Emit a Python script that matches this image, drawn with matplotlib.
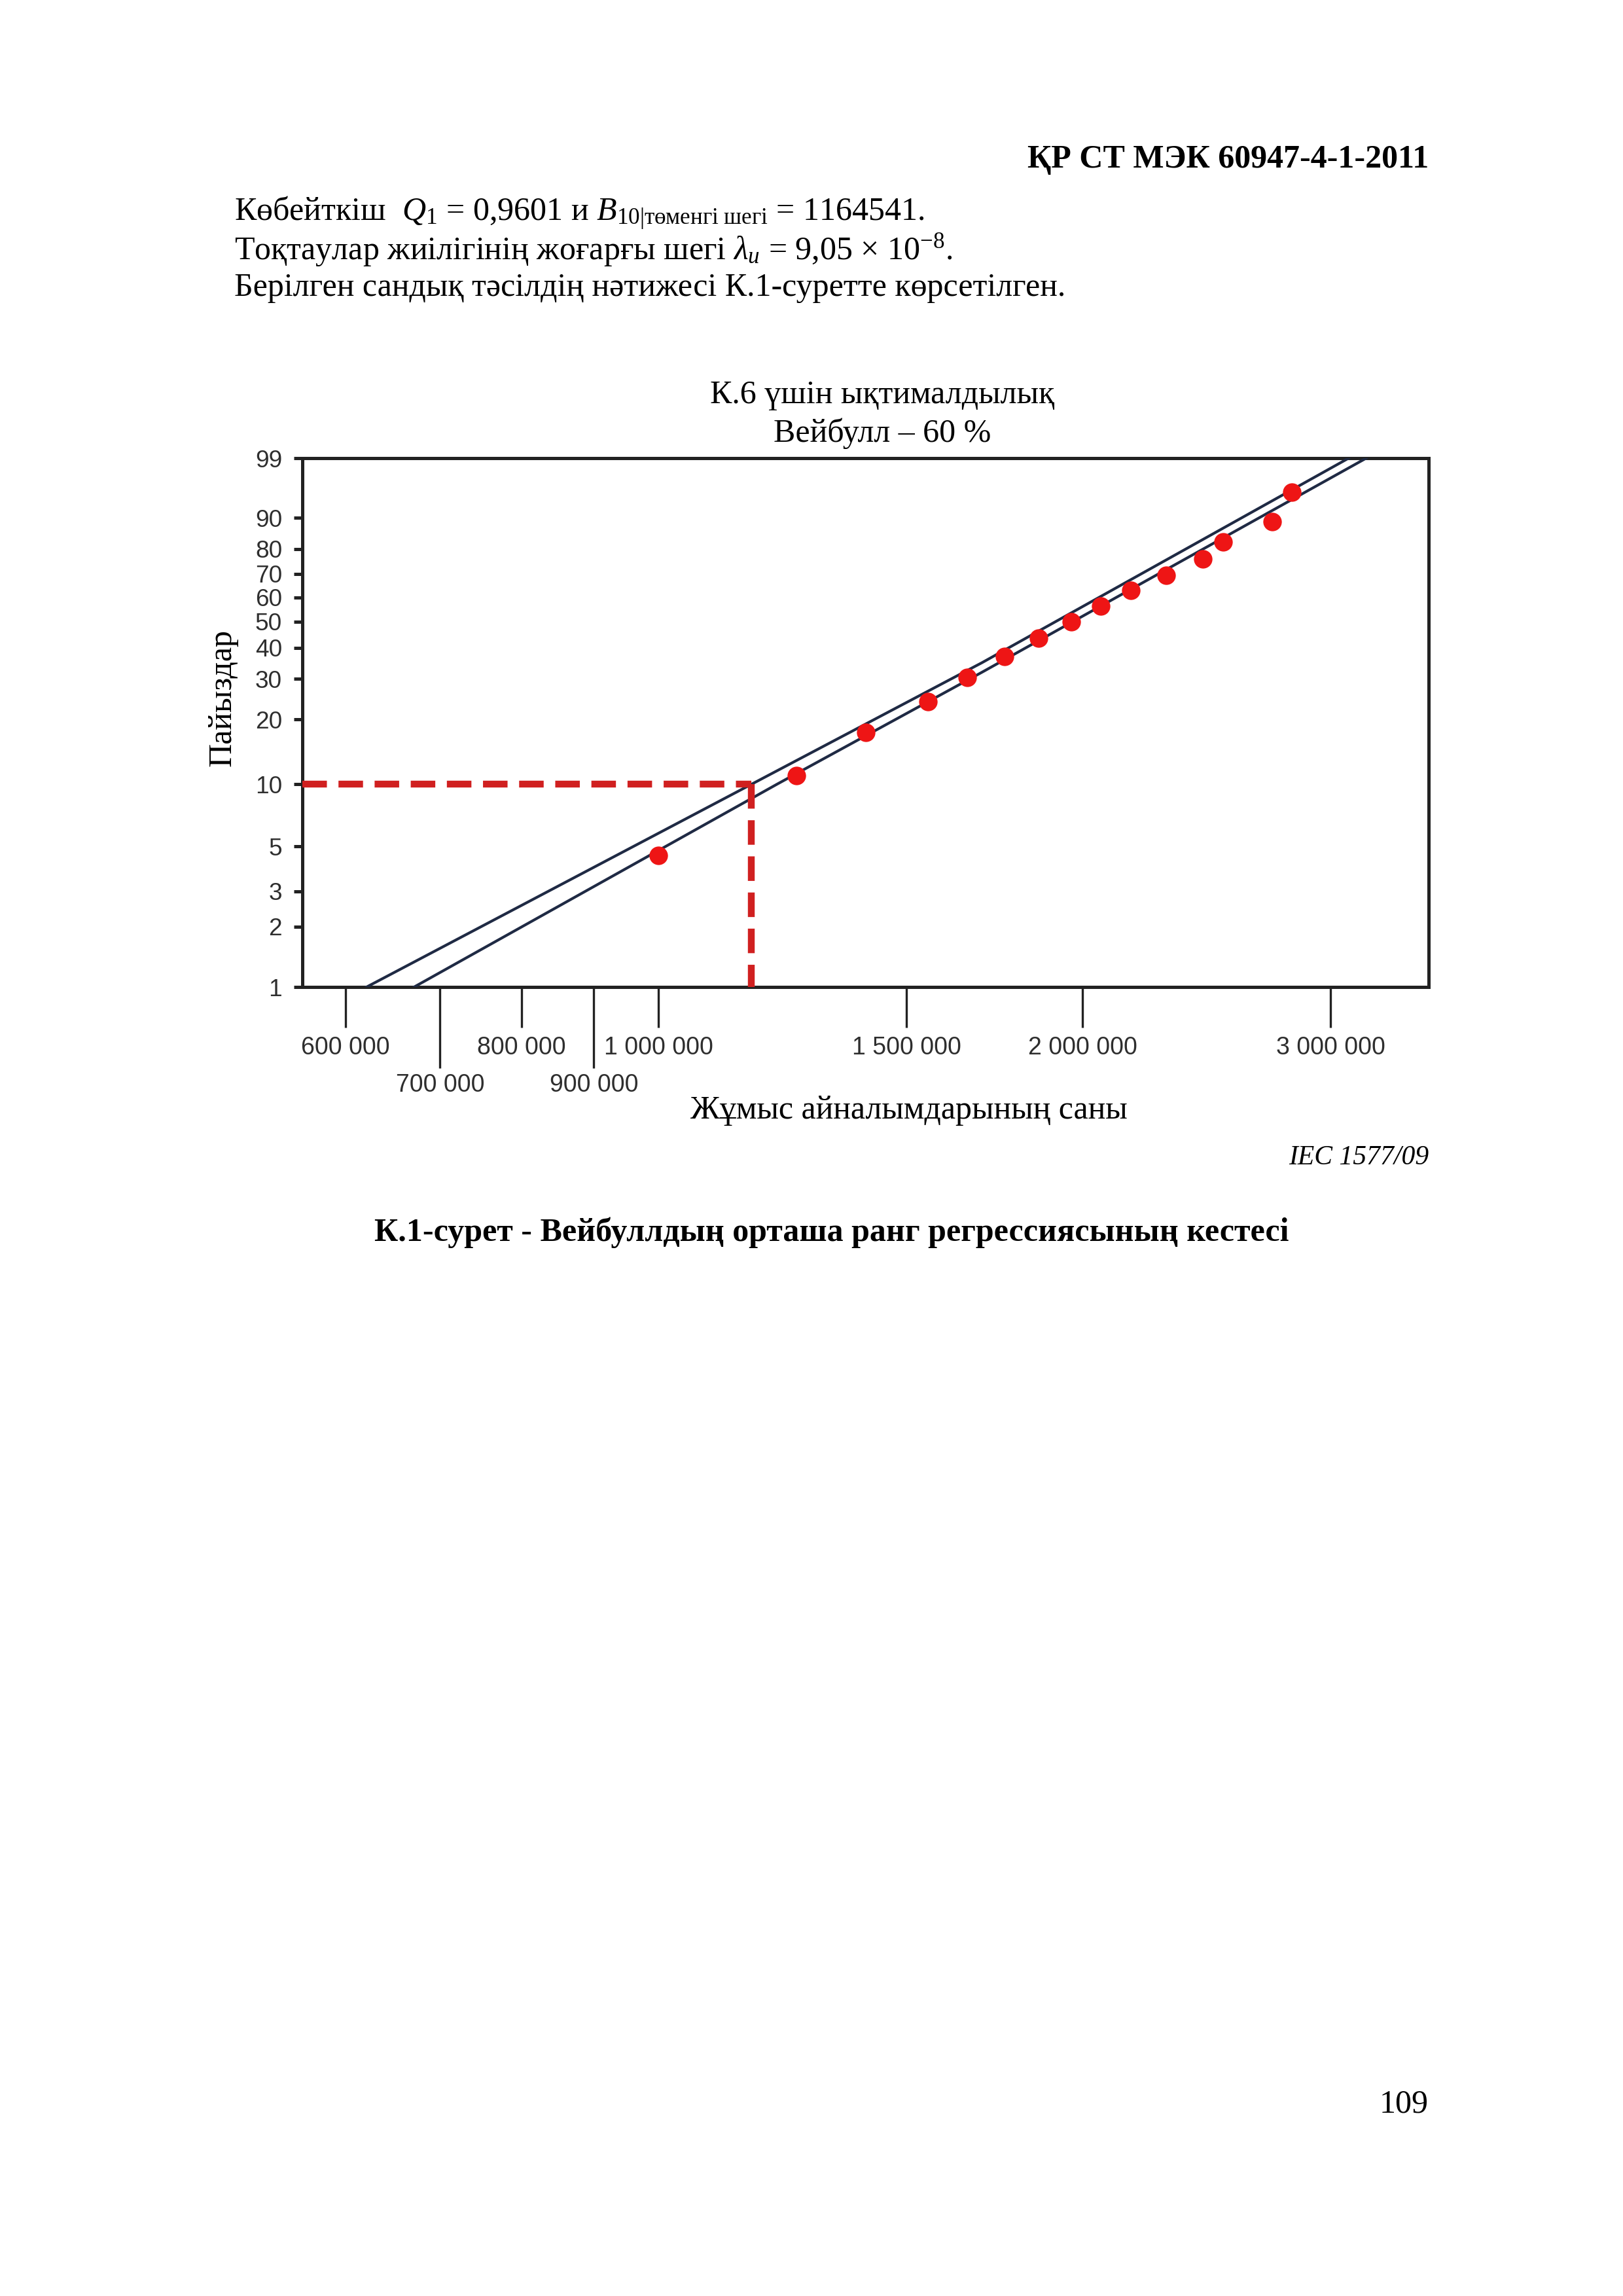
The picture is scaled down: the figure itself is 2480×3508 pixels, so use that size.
import numpy as np
import matplotlib
matplotlib.use("Agg")
import matplotlib.pyplot as plt
from matplotlib.ticker import FixedLocator, FixedFormatter, NullLocator

plt.rcParams['font.family'] = ['Liberation Serif', 'DejaVu Serif']
plt.rcParams['mathtext.fontset'] = 'custom'
plt.rcParams['mathtext.rm'] = 'Liberation Serif'
plt.rcParams['mathtext.it'] = 'Liberation Serif:italic'
plt.rcParams['mathtext.bf'] = 'Liberation Serif:bold'

# %% data
cycles = [1000000, 1253000, 1404000, 1553000, 1657000, 1760000, 1862000,
          1964000, 2061000, 2165000, 2292000, 2433000, 2515000, 2725000, 2815000]
percent = [4.5, 11.0, 17.5, 24.0, 30.5, 37.0, 43.5, 50.0, 56.5, 63.0,
           69.5, 76.0, 82.5, 89.0, 95.5]

upper_cycles = [620900, 1164541, 1697000, 3089000]
upper_pct = [1, 10, 35, 99]
lower_cycles = [671000, 1214000, 1697000, 3179000]
lower_pct = [1, 10, 32, 99]

b10 = 1164541
b10_pct = 10

x_major = [600000, 800000, 1000000, 1500000, 2000000, 3000000]
x_major_lbl = ["600 000", "800 000", "1 000 000", "1 500 000", "2 000 000", "3 000 000"]
x_minor = [700000, 900000]
x_minor_lbl = ["700 000", "900 000"]
y_ticks = [1, 2, 3, 5, 10, 20, 30, 40, 50, 60, 70, 80, 90, 99]
xmin, xmax = 559000, 3520000


def wb_fwd(p):
    p = np.clip(np.asarray(p, dtype=float), 1e-6, 100 - 1e-6)
    return np.log(-np.log(1 - p / 100.0))


def wb_inv(w):
    return 100.0 * (1 - np.exp(-np.exp(np.asarray(w, dtype=float))))


# %% figure
W, H = 2480, 3508
fig = plt.figure(figsize=(W / 300, H / 300), dpi=300)


def px(x, y):
    return x / W, 1 - y / H


ax = fig.add_axes([462 / W, 1 - 1508 / H, (2183 - 462) / W, (1508 - 700) / H])
ax.set_xscale('log')
ax.set_yscale('function', functions=(wb_fwd, wb_inv))
ax.set_xlim(xmin, xmax)
ax.set_ylim(1, 99)

ax.plot(upper_cycles, upper_pct, color='#1f2a44', lw=1.0, zorder=3)
ax.plot(lower_cycles, lower_pct, color='#1f2a44', lw=1.0, zorder=3)

ax.plot([xmin, b10], [b10_pct, b10_pct], color='#d02020', lw=2.5,
        dashes=(3.6, 1.7), dash_capstyle='butt', clip_on=False, zorder=4)
ax.plot([b10, b10], [b10_pct, 1], color='#d02020', lw=2.5,
        dashes=(3.6, 1.7), dash_capstyle='butt', clip_on=False, zorder=4)

ax.plot(cycles, percent, 'o', color='#ee1515', ms=6.8, mew=0, zorder=5)

for s in ax.spines.values():
    s.set_linewidth(1.2)
    s.set_color('#222222')

ax.xaxis.set_major_locator(FixedLocator(x_major))
ax.xaxis.set_major_formatter(FixedFormatter(x_major_lbl))
ax.xaxis.set_minor_locator(FixedLocator(x_minor))
ax.xaxis.set_minor_formatter(FixedFormatter(x_minor_lbl))
ax.tick_params(axis='x', which='major', direction='out', length=14.9, width=0.8,
               color='#222222', pad=3.2, labelsize=9, labelcolor='#2e2e2e')
ax.tick_params(axis='x', which='minor', direction='out', length=29.8, width=0.8,
               color='#222222', pad=1.8, labelsize=9, labelcolor='#2e2e2e')

ax.yaxis.set_major_locator(FixedLocator(y_ticks))
ax.yaxis.set_major_formatter(FixedFormatter([str(v) for v in y_ticks]))
ax.yaxis.set_minor_locator(NullLocator())
ax.tick_params(axis='y', direction='out', length=3.2, width=1.2,
               color='#222222', pad=4.2, labelsize=8.9, labelcolor='#2e2e2e')
for lbl in ax.get_xticklabels(which='both') + ax.get_yticklabels():
    lbl.set_family(['Liberation Sans', 'DejaVu Sans'])

# %% page text
serif = ['Liberation Serif', 'DejaVu Serif']
fig.text(*px(2183, 244), "ҚР СТ МЭК 60947-4-1-2011", ha='right', va='center',
         fontsize=12, fontweight='bold', family=serif)
fig.text(*px(358, 326),
         r"Көбейткіш  $Q_1$ = 0,9601 и $B_{\mathrm{10|төменгі\ шегі}}$ = 1164541.",
         ha='left', va='center', fontsize=12, family=serif)
fig.text(*px(358, 382),
         r"Тоқтаулар жиілігінің жоғарғы шегі $\lambda_{u}$ = 9,05 × 10$^{-8}$.",
         ha='left', va='center', fontsize=12, family=serif)
fig.text(*px(358, 440), "Берілген сандық тәсілдің нәтижесі К.1-суретте көрсетілген.",
         ha='left', va='center', fontsize=12, family=serif)

fig.text(*px(1348, 604), "К.6 үшін ықтималдылық", ha='center', va='center',
         fontsize=12, family=serif)
fig.text(*px(1348, 662), "Вейбулл – 60 %", ha='center', va='center',
         fontsize=12, family=serif)
fig.text(*px(340, 1066), "Пайыздар", ha='center', va='center', rotation=90,
         fontsize=12, family=serif)
fig.text(*px(1389, 1697), "Жұмыс айналымдарының саны", ha='center', va='center',
         fontsize=12, family=serif)
fig.text(*px(2183, 1769), "IEC 1577/09", ha='right', va='center',
         fontsize=10, style='italic', family=serif)
fig.text(*px(1271, 1883), "К.1-сурет - Вейбуллдың орташа ранг регрессиясының кестесі",
         ha='center', va='center', fontsize=12, fontweight='bold', family=serif)
fig.text(*px(2183, 3215), "109", ha='right', va='center', fontsize=12, family=serif)

fig.savefig("out.png", dpi=300)
